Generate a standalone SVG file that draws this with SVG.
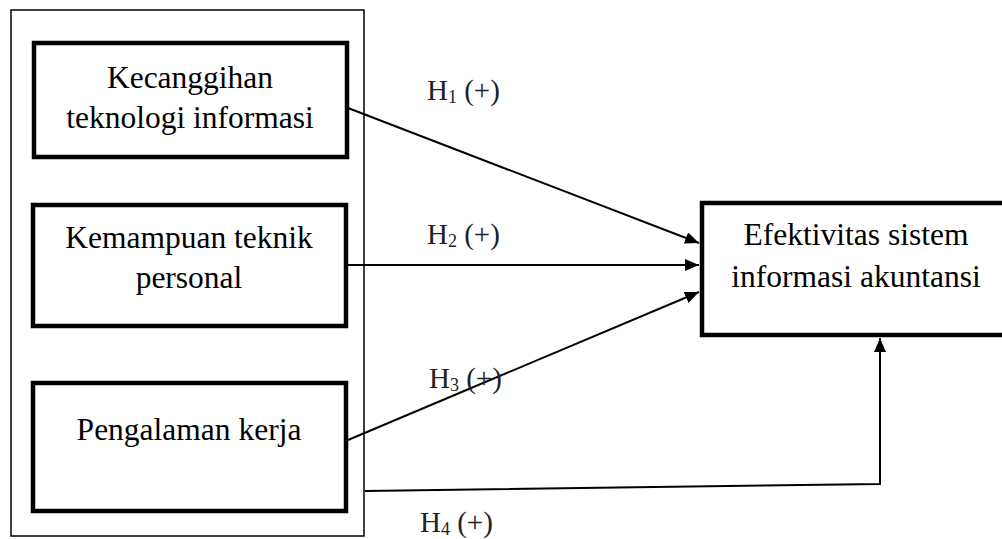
<svg xmlns="http://www.w3.org/2000/svg" width="1002" height="539" viewBox="0 0 1002 539">
<style>
.box{fill:#fff;stroke:#000;stroke-width:4.5}
.outer{fill:none;stroke:#000;stroke-width:1.5}
.t{font-family:"Liberation Serif","Times New Roman",serif;font-size:31.5px;fill:#000;text-anchor:middle}
.h{font-family:"Liberation Serif","Times New Roman",serif;font-size:29px;fill:#222}
.sub{font-size:18px}
.c{fill:none;stroke:#000;stroke-width:2}
</style>
<defs>
<marker id="ah" markerWidth="14" markerHeight="12" refX="14" refY="6" orient="auto" markerUnits="userSpaceOnUse">
<path d="M0,0 L14,6 L0,12 Z" fill="#000"/>
</marker>
</defs>
<rect class="outer" x="11" y="10" width="353" height="526"/>
<g id="n1">
<rect class="box" x="34" y="43" width="313" height="114"/>
<text class="t" x="190" y="88">Kecanggihan</text>
<text class="t" x="190" y="128">teknologi informasi</text>
</g>
<g id="n2">
<rect class="box" x="33" y="205" width="313" height="121"/>
<text class="t" x="189" y="248">Kemampuan teknik</text>
<text class="t" x="189" y="288">personal</text>
</g>
<g id="n3">
<rect class="box" x="33" y="383" width="313" height="128"/>
<text class="t" x="189" y="440">Pengalaman kerja</text>
</g>
<g id="n4">
<rect class="box" x="702" y="203" width="310" height="132"/>
<text class="t" x="856" y="245">Efektivitas sistem</text>
<text class="t" x="856" y="287">informasi akuntansi</text>
</g>
<g id="connectors">
<line class="c" x1="348" y1="108" x2="699" y2="243" marker-end="url(#ah)"/>
<line class="c" x1="348" y1="265" x2="699" y2="265" marker-end="url(#ah)"/>
<line class="c" x1="348" y1="440" x2="699" y2="292" marker-end="url(#ah)"/>
<polyline class="c" points="365,491 880,484 880,338" marker-end="url(#ah)"/>
</g>
<g id="labels">
<text class="h" x="427" y="100">H<tspan class="sub" dy="3">1</tspan><tspan dy="-3"> (+)</tspan></text>
<text class="h" x="427" y="244">H<tspan class="sub" dy="3">2</tspan><tspan dy="-3"> (+)</tspan></text>
<text class="h" x="429" y="388">H<tspan class="sub" dy="3">3</tspan><tspan dy="-3"> (+)</tspan></text>
<text class="h" x="420" y="532">H<tspan class="sub" dy="3">4</tspan><tspan dy="-3"> (+)</tspan></text>
</g>
</svg>
